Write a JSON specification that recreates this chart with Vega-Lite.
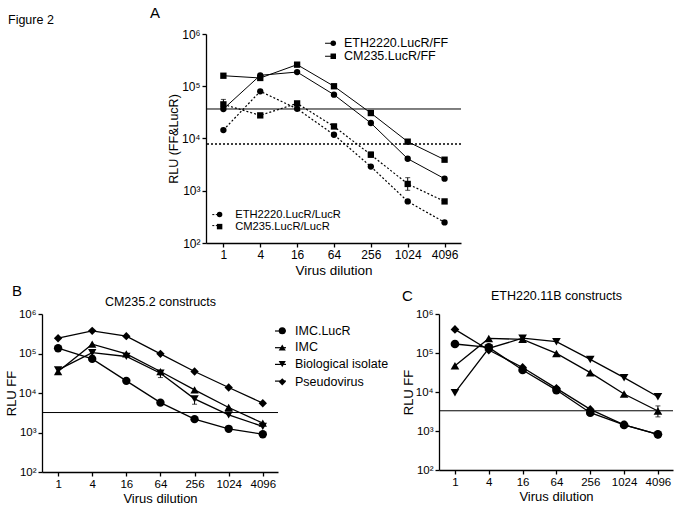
{
  "$schema": "https://vega.github.io/schema/vega-lite/v6.json",
  "padding": {"left": 5, "top": 5, "right": 2, "bottom": 2},
  "config": {
    "font": "Liberation Sans",
    "view": {"stroke": null},
    "axis": {"grid": false, "domainColor": "black", "domainWidth": 1.3, "tickColor": "black", "tickWidth": 1.3, "tickSize": 4, "labelColor": "black", "titleColor": "black", "titleFontWeight": "normal", "labelPadding": 2, "labelFlush": false, "labelOverlap": false},
    "legend": {"labelColor": "black"},
    "title": {"color": "black", "fontWeight": "normal"}
  },
  "datasets": {
    "A": [
      {"dilution": 1, "rlu": 36700, "series": "ETH2220.LucR/FF", "readout": "FF"},
      {"dilution": 4, "rlu": 162000, "series": "ETH2220.LucR/FF", "readout": "FF"},
      {"dilution": 16, "rlu": 187000, "series": "ETH2220.LucR/FF", "readout": "FF"},
      {"dilution": 64, "rlu": 68900, "series": "ETH2220.LucR/FF", "readout": "FF"},
      {"dilution": 256, "rlu": 19800, "series": "ETH2220.LucR/FF", "readout": "FF"},
      {"dilution": 1024, "rlu": 4100, "series": "ETH2220.LucR/FF", "readout": "FF"},
      {"dilution": 4096, "rlu": 1700, "series": "ETH2220.LucR/FF", "readout": "FF"},
      {"dilution": 1, "rlu": 159000, "series": "CM235.LucR/FF", "readout": "FF"},
      {"dilution": 4, "rlu": 144000, "series": "CM235.LucR/FF", "readout": "FF"},
      {"dilution": 16, "rlu": 259000, "series": "CM235.LucR/FF", "readout": "FF"},
      {"dilution": 64, "rlu": 100000, "series": "CM235.LucR/FF", "readout": "FF"},
      {"dilution": 256, "rlu": 30700, "series": "CM235.LucR/FF", "readout": "FF"},
      {"dilution": 1024, "rlu": 8700, "series": "CM235.LucR/FF", "readout": "FF"},
      {"dilution": 4096, "rlu": 3930, "series": "CM235.LucR/FF", "readout": "FF"},
      {"dilution": 1, "rlu": 14500, "series": "ETH2220.LucR/LucR", "readout": "LucR"},
      {"dilution": 4, "rlu": 80000, "series": "ETH2220.LucR/LucR", "readout": "LucR"},
      {"dilution": 16, "rlu": 37000, "series": "ETH2220.LucR/LucR", "readout": "LucR"},
      {"dilution": 64, "rlu": 11800, "series": "ETH2220.LucR/LucR", "readout": "LucR"},
      {"dilution": 256, "rlu": 2900, "series": "ETH2220.LucR/LucR", "readout": "LucR"},
      {"dilution": 1024, "rlu": 625, "series": "ETH2220.LucR/LucR", "readout": "LucR"},
      {"dilution": 4096, "rlu": 248, "series": "ETH2220.LucR/LucR", "readout": "LucR"},
      {"dilution": 1, "rlu": 45000, "series": "CM235.LucR/LucR", "readout": "LucR"},
      {"dilution": 4, "rlu": 27700, "series": "CM235.LucR/LucR", "readout": "LucR"},
      {"dilution": 16, "rlu": 47000, "series": "CM235.LucR/LucR", "readout": "LucR"},
      {"dilution": 64, "rlu": 17000, "series": "CM235.LucR/LucR", "readout": "LucR"},
      {"dilution": 256, "rlu": 4900, "series": "CM235.LucR/LucR", "readout": "LucR"},
      {"dilution": 1024, "rlu": 1350, "series": "CM235.LucR/LucR", "readout": "LucR"},
      {"dilution": 4096, "rlu": 625, "series": "CM235.LucR/LucR", "readout": "LucR"}
    ],
    "Aerr": [
      {"dilution": 1, "lo": 37000, "hi": 56000},
      {"dilution": 64, "lo": 15500, "hi": 18800},
      {"dilution": 256, "lo": 4400, "hi": 5500},
      {"dilution": 1024, "lo": 1020, "hi": 1780}
    ],
    "B": [
      {"dilution": 1, "rlu": 136000, "series": "IMC.LucR"},
      {"dilution": 4, "rlu": 73000, "series": "IMC.LucR"},
      {"dilution": 16, "rlu": 20300, "series": "IMC.LucR"},
      {"dilution": 64, "rlu": 5700, "series": "IMC.LucR"},
      {"dilution": 256, "rlu": 2180, "series": "IMC.LucR"},
      {"dilution": 1024, "rlu": 1240, "series": "IMC.LucR"},
      {"dilution": 4096, "rlu": 905, "series": "IMC.LucR"},
      {"dilution": 1, "rlu": 35000, "series": "IMC"},
      {"dilution": 4, "rlu": 172000, "series": "IMC"},
      {"dilution": 16, "rlu": 98000, "series": "IMC"},
      {"dilution": 64, "rlu": 35000, "series": "IMC"},
      {"dilution": 256, "rlu": 12000, "series": "IMC"},
      {"dilution": 1024, "rlu": 4300, "series": "IMC"},
      {"dilution": 4096, "rlu": 1720, "series": "IMC"},
      {"dilution": 1, "rlu": 38500, "series": "Biological isolate"},
      {"dilution": 4, "rlu": 105000, "series": "Biological isolate"},
      {"dilution": 16, "rlu": 84000, "series": "Biological isolate"},
      {"dilution": 64, "rlu": 31700, "series": "Biological isolate"},
      {"dilution": 256, "rlu": 7100, "series": "Biological isolate"},
      {"dilution": 1024, "rlu": 2800, "series": "Biological isolate"},
      {"dilution": 4096, "rlu": 1420, "series": "Biological isolate"},
      {"dilution": 1, "rlu": 244000, "series": "Pseudovirus"},
      {"dilution": 4, "rlu": 375000, "series": "Pseudovirus"},
      {"dilution": 16, "rlu": 275000, "series": "Pseudovirus"},
      {"dilution": 64, "rlu": 98000, "series": "Pseudovirus"},
      {"dilution": 256, "rlu": 35000, "series": "Pseudovirus"},
      {"dilution": 1024, "rlu": 13800, "series": "Pseudovirus"},
      {"dilution": 4096, "rlu": 5520, "series": "Pseudovirus"}
    ],
    "Berr": [
      {"dilution": 1, "lo": 31000, "hi": 44000},
      {"dilution": 4, "lo": 90000, "hi": 125000},
      {"dilution": 64, "lo": 24600, "hi": 36000},
      {"dilution": 256, "lo": 5200, "hi": 8000}
    ],
    "C": [
      {"dilution": 1, "rlu": 170000, "series": "IMC.LucR"},
      {"dilution": 4, "rlu": 139000, "series": "IMC.LucR"},
      {"dilution": 16, "rlu": 36600, "series": "IMC.LucR"},
      {"dilution": 64, "rlu": 11200, "series": "IMC.LucR"},
      {"dilution": 256, "rlu": 2950, "series": "IMC.LucR"},
      {"dilution": 1024, "rlu": 1430, "series": "IMC.LucR"},
      {"dilution": 4096, "rlu": 820, "series": "IMC.LucR"},
      {"dilution": 1, "rlu": 47000, "series": "IMC"},
      {"dilution": 4, "rlu": 237000, "series": "IMC"},
      {"dilution": 16, "rlu": 224000, "series": "IMC"},
      {"dilution": 64, "rlu": 97700, "series": "IMC"},
      {"dilution": 256, "rlu": 31300, "series": "IMC"},
      {"dilution": 1024, "rlu": 8900, "series": "IMC"},
      {"dilution": 4096, "rlu": 3260, "series": "IMC"},
      {"dilution": 1, "rlu": 9600, "series": "Biological isolate"},
      {"dilution": 4, "rlu": 131000, "series": "Biological isolate"},
      {"dilution": 16, "rlu": 240000, "series": "Biological isolate"},
      {"dilution": 64, "rlu": 195000, "series": "Biological isolate"},
      {"dilution": 256, "rlu": 68500, "series": "Biological isolate"},
      {"dilution": 1024, "rlu": 23300, "series": "Biological isolate"},
      {"dilution": 4096, "rlu": 7570, "series": "Biological isolate"},
      {"dilution": 1, "rlu": 403000, "series": "Pseudovirus"},
      {"dilution": 4, "rlu": 119000, "series": "Pseudovirus"},
      {"dilution": 16, "rlu": 42600, "series": "Pseudovirus"},
      {"dilution": 64, "rlu": 12400, "series": "Pseudovirus"},
      {"dilution": 256, "rlu": 3580, "series": "Pseudovirus"},
      {"dilution": 1024, "rlu": 1430, "series": "Pseudovirus"},
      {"dilution": 4096, "rlu": 820, "series": "Pseudovirus"}
    ],
    "Cerr": [
      {"dilution": 16, "lo": 205000, "hi": 262000},
      {"dilution": 4096, "lo": 2300, "hi": 4400}
    ]
  },
  "resolve": {"scale": {"shape": "independent", "color": "independent"}},
  "spacing": 6,
  "vconcat": [
    {
      "bounds": "flush",
      "spacing": 21,
      "hconcat": [
        {
          "width": 143, "height": 209,
          "title": {"text": "Figure 2", "anchor": "start", "frame": "group", "fontSize": 12.5, "offset": 7.8, "dx": -34},
          "data": {"values": [{}]},
          "mark": {"type": "point", "opacity": 0},
          "encoding": {}
        },
        {
          "width": 255, "height": 209,
          "title": {"text": "A", "anchor": "start", "frame": "group", "dx": -56, "fontSize": 15, "offset": 7.5},
          "resolve": {"scale": {"shape": "independent", "color": "independent"}},
          "layer": [
            {
              "data": {"values": [{}]},
              "mark": {"type": "rule", "color": "black", "strokeWidth": 1},
              "encoding": {"y": {"datum": 36700, "type": "quantitative", "scale": {"type": "log", "domain": [100, 1000000], "nice": false},
                "axis": {"values": [100, 1000, 10000, 100000, 1000000], "labelExpr": "'10' + (datum.value >= 999999 ? '⁶' : datum.value >= 99999 ? '⁵' : datum.value >= 9999 ? '⁴' : datum.value >= 999 ? '³' : '²')", "title": "RLU (FF&LucR)", "labelFontSize": 12, "titleFontSize": 12.5, "titlePadding": 1}}}
            },
            {
              "data": {"values": [{}]},
              "mark": {"type": "rule", "color": "black", "strokeWidth": 1.3, "strokeDash": [2, 2]},
              "encoding": {"y": {"datum": 7850, "type": "quantitative", "scale": {"type": "log", "domain": [100, 1000000], "nice": false},
                "axis": {"values": [100, 1000, 10000, 100000, 1000000], "labelExpr": "'10' + (datum.value >= 999999 ? '⁶' : datum.value >= 99999 ? '⁵' : datum.value >= 9999 ? '⁴' : datum.value >= 999 ? '³' : '²')", "title": "RLU (FF&LucR)", "labelFontSize": 12, "titleFontSize": 12.5, "titlePadding": 1}}}
            },
            {
              "data": {"name": "A"},
              "transform": [{"filter": "datum.readout === 'FF'"}],
              "layer": [
                {
                  "mark": {"type": "line", "strokeWidth": 1},
                  "encoding": {
                    "x": {"field": "dilution", "type": "quantitative", "scale": {"type": "log", "base": 2, "domain": [0.52, 7600], "nice": false},
                      "axis": {"values": [1, 4, 16, 64, 256, 1024, 4096], "format": "d", "title": "Virus dilution", "labelFontSize": 12, "titleFontSize": 13.5, "titlePadding": 3}},
                    "y": {"field": "rlu", "type": "quantitative", "scale": {"type": "log", "domain": [100, 1000000], "nice": false},
                      "axis": {"values": [100, 1000, 10000, 100000, 1000000], "labelExpr": "'10' + (datum.value >= 999999 ? '⁶' : datum.value >= 99999 ? '⁵' : datum.value >= 9999 ? '⁴' : datum.value >= 999 ? '³' : '²')", "title": "RLU (FF&LucR)", "labelFontSize": 12, "titleFontSize": 12.5, "titlePadding": 1}},
                    "color": {"field": "series", "type": "nominal",
                      "scale": {"domain": ["CM235.LucR/FF", "ETH2220.LucR/FF"], "range": ["black", "black"]},
                      "legend": {"orient": "none", "legendX": 118.3, "legendY": 3, "title": null, "labelExpr": "''", "labelFontSize": 12.5, "rowPadding": -2, "symbolType": "stroke", "symbolSize": 121, "symbolStrokeWidth": 1, "symbolStrokeColor": "black", "padding": 0}}
                  }
                },
                {
                  "mark": {"type": "point", "filled": true, "color": "black", "opacity": 1, "size": 40},
                  "encoding": {
                    "x": {"field": "dilution", "type": "quantitative", "scale": {"type": "log", "base": 2, "domain": [0.52, 7600], "nice": false},
                      "axis": {"values": [1, 4, 16, 64, 256, 1024, 4096], "format": "d", "title": "Virus dilution", "labelFontSize": 12, "titleFontSize": 13.5, "titlePadding": 3}},
                    "y": {"field": "rlu", "type": "quantitative", "scale": {"type": "log", "domain": [100, 1000000], "nice": false},
                      "axis": {"values": [100, 1000, 10000, 100000, 1000000], "labelExpr": "'10' + (datum.value >= 999999 ? '⁶' : datum.value >= 99999 ? '⁵' : datum.value >= 9999 ? '⁴' : datum.value >= 999 ? '³' : '²')", "title": "RLU (FF&LucR)", "labelFontSize": 12, "titleFontSize": 12.5, "titlePadding": 1}},
                    "shape": {"field": "series", "type": "nominal",
                      "scale": {"domain": ["ETH2220.LucR/FF", "CM235.LucR/FF"], "range": ["circle", "square"]},
                      "legend": {"orient": "none", "legendX": 121, "legendY": 3, "title": null, "labelFontSize": 12.5, "rowPadding": -2, "symbolSize": 30, "labelOffset": 4.5, "padding": 0}}
                  }
                }
              ]
            },
            {
              "data": {"name": "A"},
              "transform": [{"filter": "datum.readout === 'LucR'"}],
              "layer": [
                {
                  "mark": {"type": "line", "strokeWidth": 1.2, "strokeDash": [2, 2]},
                  "encoding": {
                    "x": {"field": "dilution", "type": "quantitative", "scale": {"type": "log", "base": 2, "domain": [0.52, 7600], "nice": false},
                      "axis": {"values": [1, 4, 16, 64, 256, 1024, 4096], "format": "d", "title": "Virus dilution", "labelFontSize": 12, "titleFontSize": 13.5, "titlePadding": 3}},
                    "y": {"field": "rlu", "type": "quantitative", "scale": {"type": "log", "domain": [100, 1000000], "nice": false},
                      "axis": {"values": [100, 1000, 10000, 100000, 1000000], "labelExpr": "'10' + (datum.value >= 999999 ? '⁶' : datum.value >= 99999 ? '⁵' : datum.value >= 9999 ? '⁴' : datum.value >= 999 ? '³' : '²')", "title": "RLU (FF&LucR)", "labelFontSize": 12, "titleFontSize": 12.5, "titlePadding": 1}},
                    "color": {"field": "series", "type": "nominal",
                      "scale": {"domain": ["CM235.LucR/LucR", "ETH2220.LucR/LucR"], "range": ["black", "black"]},
                      "legend": {"orient": "none", "legendX": 5.7, "legendY": 175, "title": null, "labelExpr": "''", "labelFontSize": 11.2, "rowPadding": -1, "symbolType": "stroke", "symbolSize": 100, "symbolStrokeWidth": 1, "symbolStrokeColor": "black", "symbolDash": [2, 1.5], "padding": 0}}
                  }
                },
                {
                  "mark": {"type": "point", "filled": true, "color": "black", "opacity": 1, "size": 40},
                  "encoding": {
                    "x": {"field": "dilution", "type": "quantitative", "scale": {"type": "log", "base": 2, "domain": [0.52, 7600], "nice": false},
                      "axis": {"values": [1, 4, 16, 64, 256, 1024, 4096], "format": "d", "title": "Virus dilution", "labelFontSize": 12, "titleFontSize": 13.5, "titlePadding": 3}},
                    "y": {"field": "rlu", "type": "quantitative", "scale": {"type": "log", "domain": [100, 1000000], "nice": false},
                      "axis": {"values": [100, 1000, 10000, 100000, 1000000], "labelExpr": "'10' + (datum.value >= 999999 ? '⁶' : datum.value >= 99999 ? '⁵' : datum.value >= 9999 ? '⁴' : datum.value >= 999 ? '³' : '²')", "title": "RLU (FF&LucR)", "labelFontSize": 12, "titleFontSize": 12.5, "titlePadding": 1}},
                    "shape": {"field": "series", "type": "nominal",
                      "scale": {"domain": ["ETH2220.LucR/LucR", "CM235.LucR/LucR"], "range": ["circle", "square"]},
                      "legend": {"orient": "none", "legendX": 8, "legendY": 175, "title": null, "labelFontSize": 11.2, "rowPadding": -1, "symbolSize": 30, "labelOffset": 10, "padding": 0}}
                  }
                }
              ]
            },
            {
              "data": {"name": "Aerr"},
              "mark": {"type": "errorbar", "ticks": true, "color": "black"},
              "encoding": {
                "x": {"field": "dilution", "type": "quantitative", "scale": {"type": "log", "base": 2, "domain": [0.52, 7600], "nice": false},
                  "axis": {"values": [1, 4, 16, 64, 256, 1024, 4096], "format": "d", "title": "Virus dilution", "labelFontSize": 12, "titleFontSize": 13.5, "titlePadding": 3}},
                "y": {"field": "lo", "type": "quantitative", "scale": {"type": "log", "domain": [100, 1000000], "nice": false},
                  "axis": {"values": [100, 1000, 10000, 100000, 1000000], "labelExpr": "'10' + (datum.value >= 999999 ? '⁶' : datum.value >= 99999 ? '⁵' : datum.value >= 9999 ? '⁴' : datum.value >= 999 ? '³' : '²')", "title": "RLU (FF&LucR)", "labelFontSize": 12, "titleFontSize": 12.5, "titlePadding": 1}},
                "y2": {"field": "hi"}
              }
            }
          ]
        }
      ]
    },
    {
      "spacing": 13,
      "resolve": {"scale": {"shape": "independent", "color": "independent"}},
      "hconcat": [
        {
          "width": 236, "height": 158,
          "title": {"text": "B", "anchor": "start", "frame": "group", "dx": -30, "fontSize": 15, "offset": -3},
          "resolve": {"axis": {"x": "independent"}},
          "layer": [
            {
              "data": {"values": [{}]},
              "mark": {"type": "rule", "color": "black", "strokeWidth": 1},
              "encoding": {"y": {"datum": 3200, "type": "quantitative", "scale": {"type": "log", "domain": [100, 1000000], "nice": false},
                "axis": {"values": [100, 1000, 10000, 100000, 1000000], "labelExpr": "'10' + (datum.value >= 999999 ? '⁶' : datum.value >= 99999 ? '⁵' : datum.value >= 9999 ? '⁴' : datum.value >= 999 ? '³' : '²')", "title": "RLU FF", "labelFontSize": 11.5, "titleFontSize": 13, "titlePadding": 0}}}
            },
            {
              "data": {"name": "B"},
              "mark": {"type": "line", "strokeWidth": 1.3},
              "encoding": {
                "x": {"field": "dilution", "type": "quantitative", "scale": {"type": "log", "base": 2, "domain": [0.52, 7600], "nice": false},
                  "axis": {"orient": "top", "domain": false, "ticks": false, "labels": false, "title": "CM235.2 constructs", "titleFontSize": 12.5, "titlePadding": 5.5}},
                "y": {"field": "rlu", "type": "quantitative", "scale": {"type": "log", "domain": [100, 1000000], "nice": false},
                  "axis": {"values": [100, 1000, 10000, 100000, 1000000], "labelExpr": "'10' + (datum.value >= 999999 ? '⁶' : datum.value >= 99999 ? '⁵' : datum.value >= 9999 ? '⁴' : datum.value >= 999 ? '³' : '²')", "title": "RLU FF", "labelFontSize": 11.5, "titleFontSize": 13, "titlePadding": 0}},
                "color": {"field": "series", "type": "nominal",
                  "scale": {"domain": ["Pseudovirus", "Biological isolate", "IMC", "IMC.LucR"], "range": ["black", "black", "black", "black"]},
                  "legend": {"orient": "none", "legendX": 232, "legendY": 10.5, "title": null, "labelExpr": "''", "labelFontSize": 12.5, "rowPadding": 3.7, "symbolType": "stroke", "symbolSize": 121, "symbolStrokeWidth": 1.2, "symbolStrokeColor": "black", "padding": 0}}
              }
            },
            {
              "data": {"name": "B"},
              "mark": {"type": "point", "filled": true, "color": "black", "opacity": 1, "size": 70},
              "encoding": {
                "x": {"field": "dilution", "type": "quantitative", "scale": {"type": "log", "base": 2, "domain": [0.52, 7600], "nice": false},
                  "axis": {"orient": "bottom", "values": [1, 4, 16, 64, 256, 1024, 4096], "format": "d", "title": "Virus dilution", "labelFontSize": 11.5, "titleFontSize": 13, "titlePadding": 3}},
                "y": {"field": "rlu", "type": "quantitative", "scale": {"type": "log", "domain": [100, 1000000], "nice": false},
                  "axis": {"values": [100, 1000, 10000, 100000, 1000000], "labelExpr": "'10' + (datum.value >= 999999 ? '⁶' : datum.value >= 99999 ? '⁵' : datum.value >= 9999 ? '⁴' : datum.value >= 999 ? '³' : '²')", "title": "RLU FF", "labelFontSize": 11.5, "titleFontSize": 13, "titlePadding": 0}},
                "shape": {"field": "series", "type": "nominal",
                  "scale": {"domain": ["IMC.LucR", "IMC", "Biological isolate", "Pseudovirus"], "range": ["circle", "triangle-up", "triangle-down", "diamond"]},
                  "legend": {"orient": "none", "legendX": 234, "legendY": 10.5, "title": null, "labelFontSize": 12.5, "rowPadding": 3.7, "symbolSize": 50, "labelOffset": 6.5, "padding": 0}}
              }
            },
            {
              "data": {"name": "Berr"},
              "mark": {"type": "errorbar", "ticks": true, "color": "black"},
              "encoding": {
                "x": {"field": "dilution", "type": "quantitative", "scale": {"type": "log", "base": 2, "domain": [0.52, 7600], "nice": false}, "axis": null},
                "y": {"field": "lo", "type": "quantitative", "scale": {"type": "log", "domain": [100, 1000000], "nice": false},
                  "axis": {"values": [100, 1000, 10000, 100000, 1000000], "labelExpr": "'10' + (datum.value >= 999999 ? '⁶' : datum.value >= 99999 ? '⁵' : datum.value >= 9999 ? '⁴' : datum.value >= 999 ? '³' : '²')", "title": "RLU FF", "labelFontSize": 11.5, "titleFontSize": 13, "titlePadding": 0}},
                "y2": {"field": "hi"}
              }
            }
          ]
        },
        {
          "width": 234, "height": 156,
          "title": {"text": "C", "anchor": "start", "frame": "group", "dx": -37, "fontSize": 15, "offset": -15},
          "resolve": {"axis": {"x": "independent"}},
          "layer": [
            {
              "data": {"values": [{}]},
              "mark": {"type": "rule", "color": "black", "strokeWidth": 1},
              "encoding": {"y": {"datum": 3300, "type": "quantitative", "scale": {"type": "log", "domain": [100, 1000000], "nice": false},
                "axis": {"values": [100, 1000, 10000, 100000, 1000000], "labelExpr": "'10' + (datum.value >= 999999 ? '⁶' : datum.value >= 99999 ? '⁵' : datum.value >= 9999 ? '⁴' : datum.value >= 999 ? '³' : '²')", "title": "RLU FF", "labelFontSize": 11.5, "titleFontSize": 13, "titlePadding": 0}}}
            },
            {
              "data": {"name": "C"},
              "mark": {"type": "line", "color": "black", "strokeWidth": 1.3},
              "encoding": {
                "x": {"field": "dilution", "type": "quantitative", "scale": {"type": "log", "base": 2, "domain": [0.52, 7600], "nice": false},
                  "axis": {"orient": "top", "domain": false, "ticks": false, "labels": false, "title": "ETH220.11B constructs", "titleFontSize": 12.5, "titlePadding": 12}},
                "y": {"field": "rlu", "type": "quantitative", "scale": {"type": "log", "domain": [100, 1000000], "nice": false},
                  "axis": {"values": [100, 1000, 10000, 100000, 1000000], "labelExpr": "'10' + (datum.value >= 999999 ? '⁶' : datum.value >= 99999 ? '⁵' : datum.value >= 9999 ? '⁴' : datum.value >= 999 ? '³' : '²')", "title": "RLU FF", "labelFontSize": 11.5, "titleFontSize": 13, "titlePadding": 0}},
                "detail": {"field": "series"}
              }
            },
            {
              "data": {"name": "C"},
              "mark": {"type": "point", "filled": true, "color": "black", "opacity": 1, "size": 75},
              "encoding": {
                "x": {"field": "dilution", "type": "quantitative", "scale": {"type": "log", "base": 2, "domain": [0.52, 7600], "nice": false},
                  "axis": {"orient": "bottom", "values": [1, 4, 16, 64, 256, 1024, 4096], "format": "d", "title": "Virus dilution", "labelFontSize": 11.5, "titleFontSize": 13, "titlePadding": 3}},
                "y": {"field": "rlu", "type": "quantitative", "scale": {"type": "log", "domain": [100, 1000000], "nice": false},
                  "axis": {"values": [100, 1000, 10000, 100000, 1000000], "labelExpr": "'10' + (datum.value >= 999999 ? '⁶' : datum.value >= 99999 ? '⁵' : datum.value >= 9999 ? '⁴' : datum.value >= 999 ? '³' : '²')", "title": "RLU FF", "labelFontSize": 11.5, "titleFontSize": 13, "titlePadding": 0}},
                "shape": {"field": "series", "type": "nominal",
                  "scale": {"domain": ["IMC.LucR", "IMC", "Biological isolate", "Pseudovirus"], "range": ["circle", "triangle-up", "triangle-down", "diamond"]},
                  "legend": null}
              }
            },
            {
              "data": {"name": "Cerr"},
              "mark": {"type": "errorbar", "ticks": true, "color": "black"},
              "encoding": {
                "x": {"field": "dilution", "type": "quantitative", "scale": {"type": "log", "base": 2, "domain": [0.52, 7600], "nice": false}, "axis": null},
                "y": {"field": "lo", "type": "quantitative", "scale": {"type": "log", "domain": [100, 1000000], "nice": false},
                  "axis": {"values": [100, 1000, 10000, 100000, 1000000], "labelExpr": "'10' + (datum.value >= 999999 ? '⁶' : datum.value >= 99999 ? '⁵' : datum.value >= 9999 ? '⁴' : datum.value >= 999 ? '³' : '²')", "title": "RLU FF", "labelFontSize": 11.5, "titleFontSize": 13, "titlePadding": 0}},
                "y2": {"field": "hi"}
              }
            }
          ]
        }
      ]
    }
  ]
}
